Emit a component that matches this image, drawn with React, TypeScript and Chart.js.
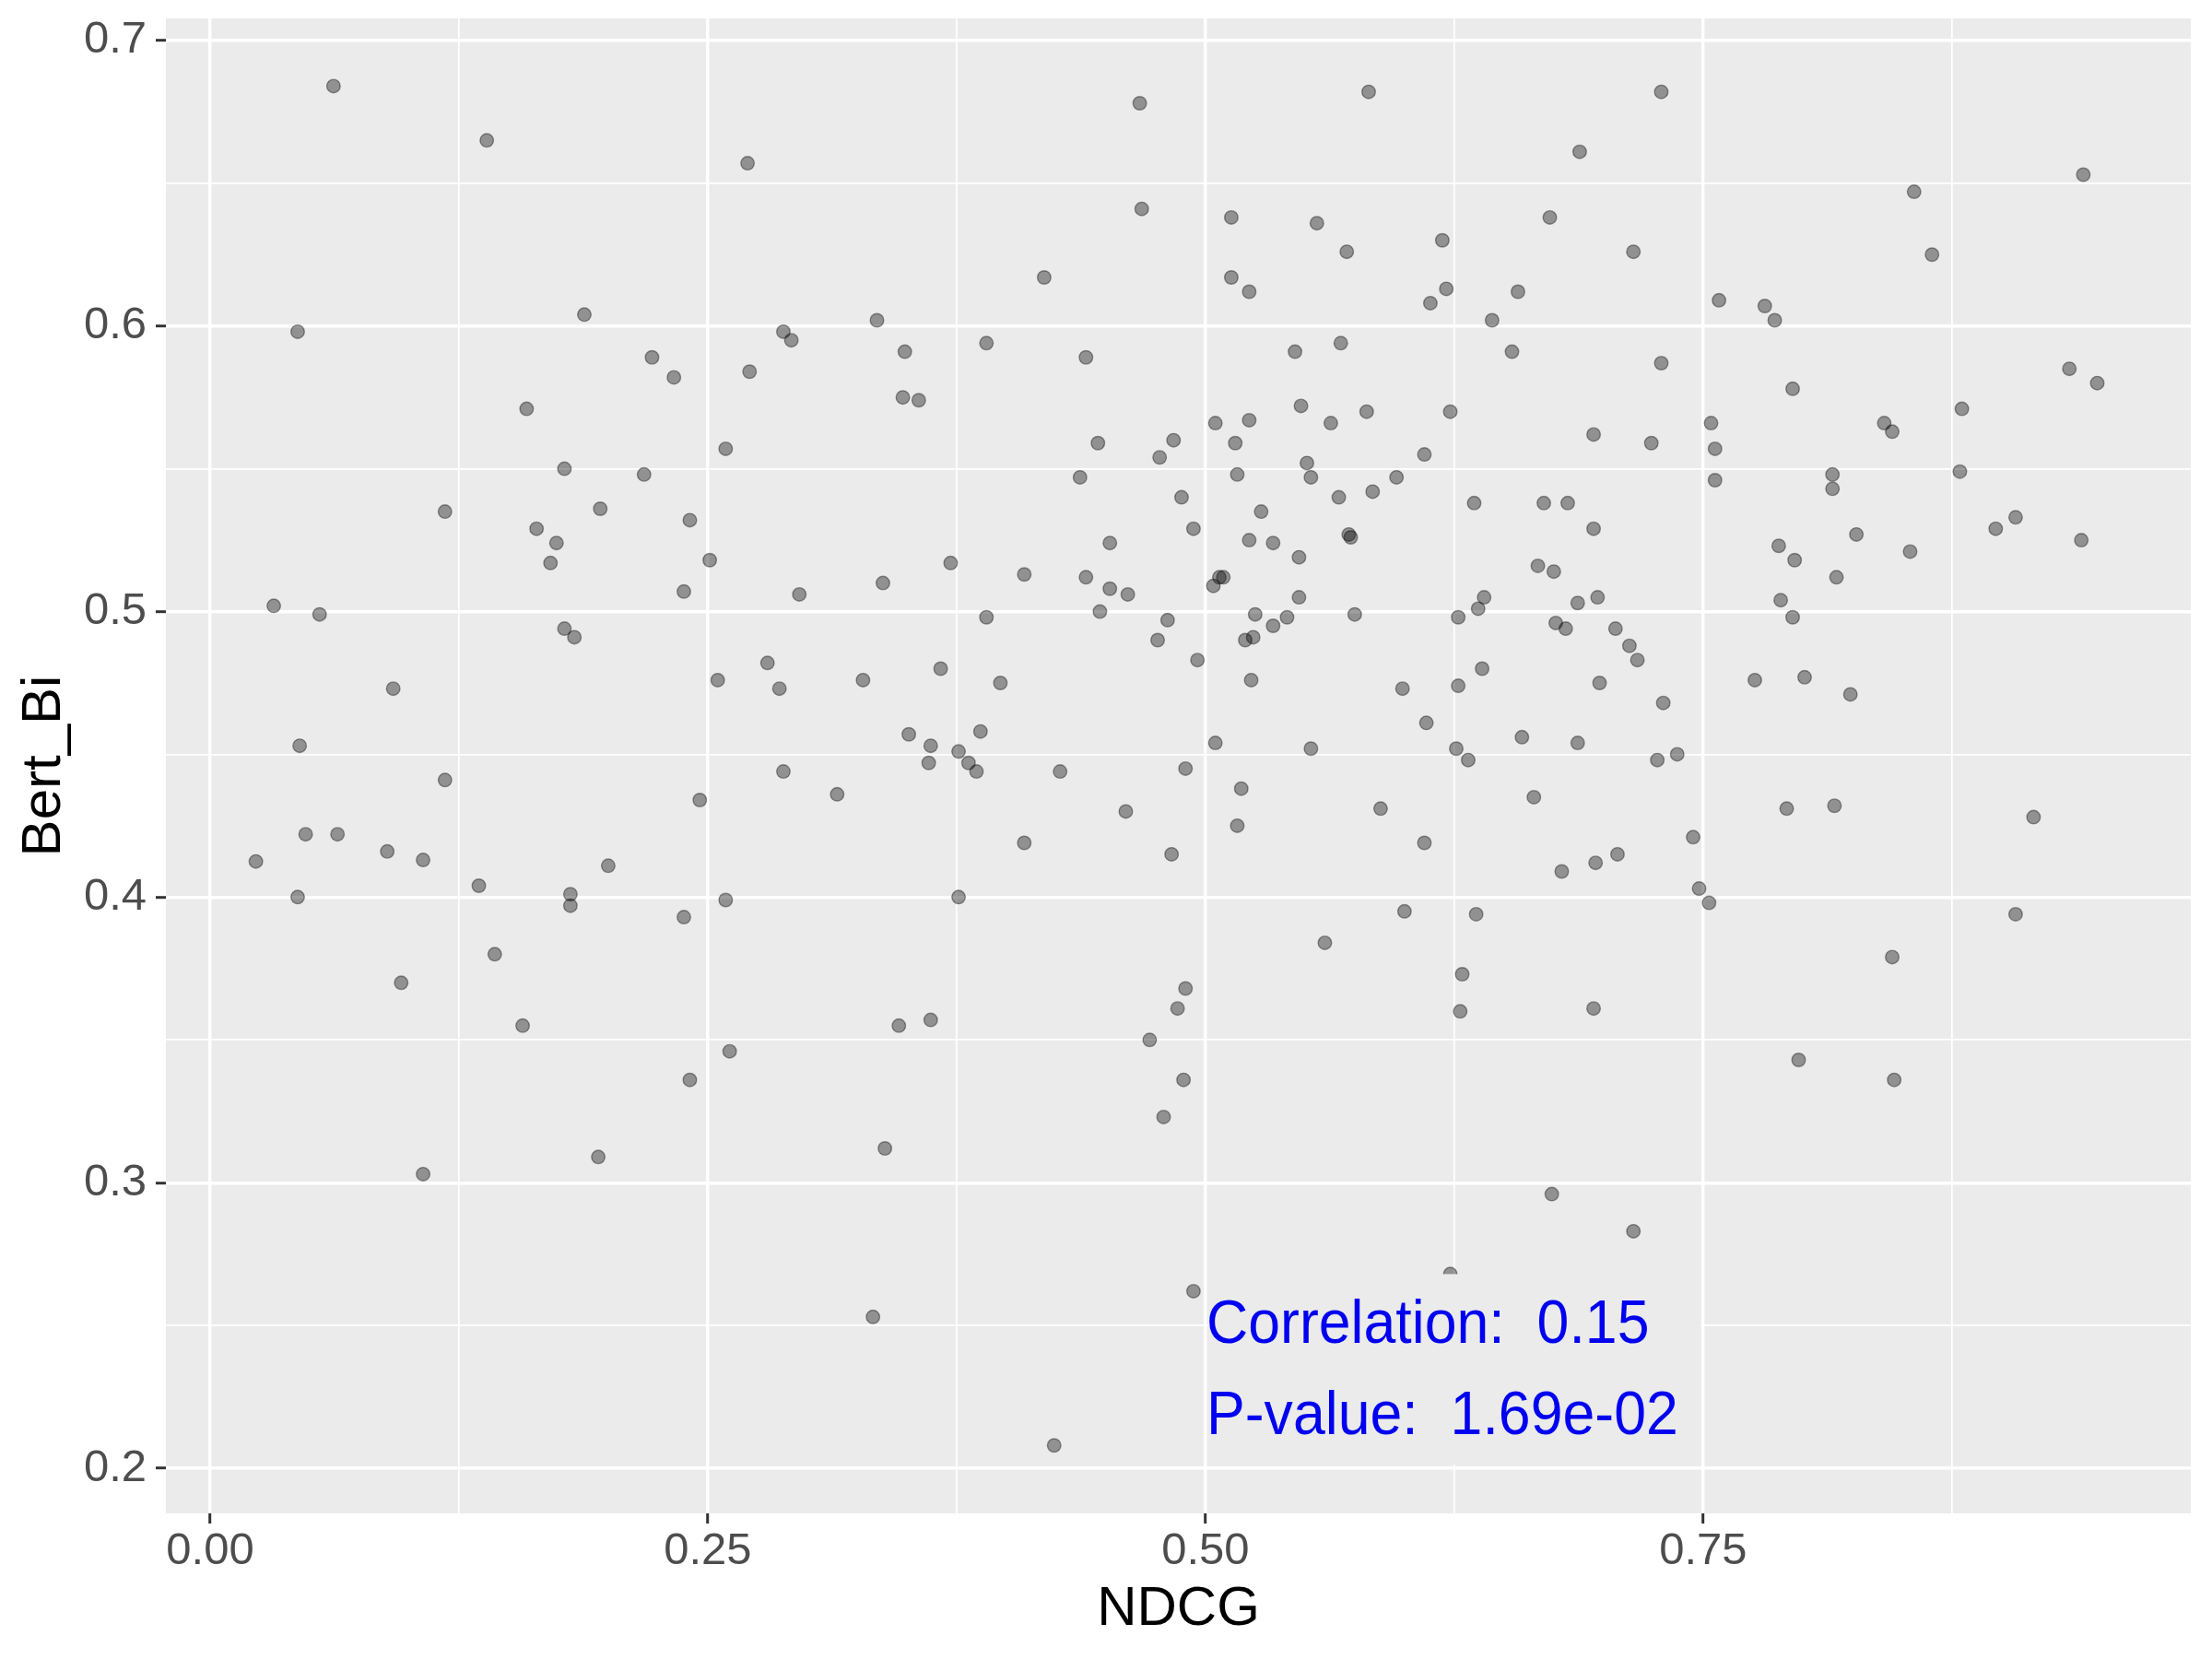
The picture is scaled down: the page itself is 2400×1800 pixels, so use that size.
import React, { useEffect, useRef } from 'react';
import { Chart, registerables } from 'chart.js';

Chart.register(...registerables);

// ---- data ----
const NDCG = [
  0.023, 0.032, 0.044, 0.045, 0.044, 0.048, 0.055, 0.062, 0.064, 0.089, 0.092, 0.096, 0.107, 0.107,
  0.118, 0.118, 0.135, 0.139, 0.143, 0.157, 0.159, 0.164, 0.171, 0.174, 0.178, 0.178, 0.181, 0.181,
  0.183, 0.188, 0.195, 0.196, 0.200, 0.218, 0.222, 0.233, 0.238, 0.238, 0.241, 0.241, 0.246, 0.251,
  0.255, 0.259, 0.259, 0.261, 0.270, 0.271, 0.280, 0.286, 0.288, 0.288, 0.292, 0.296, 0.315, 0.328,
  0.333, 0.335, 0.338, 0.339, 0.346, 0.348, 0.349, 0.351, 0.356, 0.361, 0.362, 0.362, 0.367, 0.372,
  0.376, 0.376, 0.381, 0.385, 0.387, 0.390, 0.390, 0.397, 0.409, 0.409, 0.419, 0.424, 0.427, 0.437,
  0.440, 0.440, 0.446, 0.447, 0.452, 0.452, 0.460, 0.461, 0.467, 0.468, 0.472, 0.476, 0.477, 0.479,
  0.481, 0.483, 0.484, 0.486, 0.488, 0.489, 0.490, 0.490, 0.494, 0.494, 0.496, 0.504, 0.505, 0.505,
  0.507, 0.509, 0.513, 0.513, 0.515, 0.516, 0.516, 0.518, 0.520, 0.522, 0.522, 0.522, 0.523, 0.524,
  0.525, 0.528, 0.534, 0.534, 0.541, 0.545, 0.547, 0.547, 0.548, 0.551, 0.553, 0.553, 0.556, 0.560,
  0.563, 0.567, 0.568, 0.571, 0.572, 0.573, 0.575, 0.581, 0.582, 0.584, 0.588, 0.596, 0.599, 0.600,
  0.610, 0.610, 0.611, 0.613, 0.619, 0.621, 0.623, 0.623, 0.626, 0.627, 0.627, 0.628, 0.629, 0.632,
  0.635, 0.636, 0.637, 0.639, 0.640, 0.644, 0.654, 0.657, 0.659, 0.665, 0.667, 0.670, 0.673, 0.674,
  0.675, 0.676, 0.679, 0.681, 0.682, 0.687, 0.687, 0.688, 0.695, 0.695, 0.695, 0.696, 0.697, 0.698,
  0.706, 0.707, 0.713, 0.715, 0.715, 0.717, 0.724, 0.727, 0.729, 0.729, 0.730, 0.737, 0.745, 0.748,
  0.753, 0.754, 0.756, 0.756, 0.758, 0.776, 0.781, 0.786, 0.788, 0.789, 0.792, 0.795, 0.795, 0.796,
  0.798, 0.801, 0.815, 0.815, 0.816, 0.817, 0.824, 0.827, 0.841, 0.845, 0.845, 0.846, 0.854, 0.856,
  0.865, 0.879, 0.880, 0.897, 0.907, 0.907, 0.916, 0.934, 0.940, 0.941, 0.948,
];

const BERT_BI = [
  0.4125, 0.502, 0.598, 0.453, 0.400, 0.422, 0.499, 0.684, 0.422, 0.416, 0.473, 0.370, 0.413, 0.303,
  0.535, 0.441, 0.404, 0.665, 0.380, 0.355, 0.571, 0.529, 0.517, 0.524, 0.550, 0.494, 0.401, 0.397,
  0.491, 0.604, 0.309, 0.536, 0.411, 0.548, 0.589, 0.582, 0.507, 0.393, 0.336, 0.532, 0.434, 0.518,
  0.476, 0.557, 0.399, 0.346, 0.657, 0.584, 0.482, 0.473, 0.598, 0.444, 0.595, 0.506, 0.436, 0.476,
  0.253, 0.602, 0.510, 0.312, 0.355, 0.575, 0.591, 0.457, 0.574, 0.447, 0.453, 0.357, 0.480, 0.517,
  0.451, 0.400, 0.447, 0.444, 0.458, 0.498, 0.594, 0.475, 0.419, 0.513, 0.617, 0.208, 0.444, 0.547,
  0.512, 0.589, 0.559, 0.500, 0.524, 0.508, 0.430, 0.506, 0.678, 0.641, 0.350, 0.490, 0.554, 0.323,
  0.497, 0.415, 0.560, 0.361, 0.540, 0.336, 0.368, 0.445, 0.529, 0.262, 0.483, 0.509, 0.454, 0.566,
  0.512, 0.512, 0.638, 0.617, 0.559, 0.425, 0.548, 0.438, 0.490, 0.612, 0.525, 0.567, 0.476, 0.491,
  0.499, 0.535, 0.495, 0.524, 0.498, 0.591, 0.519, 0.505, 0.572, 0.552, 0.547, 0.452, 0.636, 0.384,
  0.566, 0.540, 0.594, 0.626, 0.527, 0.526, 0.499, 0.570, 0.682, 0.542, 0.431, 0.547, 0.473, 0.395,
  0.555, 0.419, 0.461, 0.608, 0.630, 0.613, 0.570, 0.268, 0.452, 0.474, 0.498, 0.360, 0.373, 0.448,
  0.538, 0.394, 0.501, 0.480, 0.505, 0.602, 0.591, 0.612, 0.456, 0.435, 0.516, 0.538, 0.638, 0.296,
  0.514, 0.496, 0.409, 0.494, 0.538, 0.503, 0.454, 0.661, 0.562, 0.529, 0.361, 0.412, 0.505, 0.475,
  0.494, 0.415, 0.488, 0.626, 0.283, 0.483, 0.559, 0.448, 0.682, 0.587, 0.468, 0.450, 0.421, 0.403,
  0.398, 0.566, 0.557, 0.546, 0.609, 0.476, 0.607, 0.602, 0.523, 0.504, 0.431, 0.578, 0.498, 0.518,
  0.343, 0.477, 0.548, 0.543, 0.432, 0.512, 0.471, 0.527, 0.566, 0.563, 0.379, 0.336, 0.521, 0.647,
  0.625, 0.549, 0.571, 0.529, 0.533, 0.394, 0.428, 0.585, 0.525, 0.653, 0.580,
];

const X_MAJOR = [0, 0.25, 0.5, 0.75];
const X_MINOR = [0.125, 0.375, 0.625, 0.875];
const Y_MAJOR = [0.2, 0.3, 0.4, 0.5, 0.6, 0.7];
const Y_MINOR = [0.25, 0.35, 0.45, 0.55, 0.65];

const X_TITLE = 'NDCG';
const Y_TITLE = 'Bert_Bi';
const ANNOT_LINES = ['Correlation:  0.15', 'P-value:  1.69e-02'];

// axis ranges (ggplot's 5% expansion)
const X_MIN = -0.0222;
const X_MAX = 0.995;
const Y_MIN = 0.1842;
const Y_MAX = 0.7077;

// annotation placement (data units)
const ANNOT_X = 0.5005;
const ANNOT_Y = [0.2439, 0.2119];
const BOX = { x0: 0.5012, x1: 0.7488, y0: 0.2012, y1: 0.268 };

const FONT = '"Liberation Sans", Arial, Helvetica, sans-serif';
const PANEL_BG = '#EBEBEB';

const isIn = (v: number, arr: number[]) => arr.some((m) => Math.abs(m - v) < 1e-9);

const panelBg = {
  id: 'panelBg',
  beforeDraw(chart: any) {
    const { ctx, chartArea } = chart;
    ctx.save();
    ctx.fillStyle = PANEL_BG;
    ctx.fillRect(chartArea.left, chartArea.top, chartArea.right - chartArea.left, chartArea.bottom - chartArea.top);
    ctx.restore();
  },
};

const annotation = {
  id: 'corrAnnotation',
  afterDatasetsDraw(chart: any) {
    const { ctx } = chart;
    const xs = chart.scales.x;
    const ys = chart.scales.y;
    const bx0 = xs.getPixelForValue(BOX.x0);
    const bx1 = xs.getPixelForValue(BOX.x1);
    const by0 = ys.getPixelForValue(BOX.y1);
    const by1 = ys.getPixelForValue(BOX.y0);
    ctx.save();
    ctx.fillStyle = PANEL_BG;
    ctx.fillRect(bx0, by0, bx1 - bx0, by1 - by0);
    ctx.fillStyle = '#0000F0';
    ctx.font = `67px ${FONT}`;
    ctx.textAlign = 'left';
    ctx.textBaseline = 'alphabetic';
    ANNOT_LINES.forEach((line, i) => {
      ctx.save();
      ctx.translate(xs.getPixelForValue(ANNOT_X), ys.getPixelForValue(ANNOT_Y[i]));
      ctx.scale(0.935, 1);
      ctx.fillText(line, 0, 0);
      ctx.restore();
    });
    ctx.restore();
  },
};

export default function App() {
  const ref = useRef<HTMLCanvasElement | null>(null);

  useEffect(() => {
    if (!ref.current) return;
    const points = NDCG.map((x, i) => ({ x, y: BERT_BI[i] }));
    const chart = new Chart(ref.current, {
      type: 'scatter',
      data: {
        datasets: [
          {
            data: points,
            backgroundColor: 'rgba(0,0,0,0.38)',
            borderColor: 'rgba(0,0,0,0.38)',
            borderWidth: 1.4,
            pointRadius: 7.3,
            pointHoverRadius: 7.3,
          },
        ],
      },
      options: {
        responsive: false,
        animation: false,
        devicePixelRatio: 1,
        layout: { padding: { left: 0, top: 20, right: 23, bottom: 0 } },
        plugins: { legend: { display: false }, tooltip: { enabled: false }, title: { display: false } },
        scales: {
          x: {
            type: 'linear',
            min: X_MIN,
            max: X_MAX,
            afterBuildTicks: (s: any) => {
              s.ticks = [...X_MAJOR, ...X_MINOR].sort((a, b) => a - b).map((v) => ({ value: v }));
            },
            afterFit: (s: any) => {
              s.height = 158;
              s.paddingLeft = 0;
              s.paddingRight = 0;
            },
            border: { display: false },
            grid: {
              color: '#FFFFFF',
              lineWidth: (c: any) => (isIn(c.tick?.value, X_MAJOR) ? 3.4 : 1.7),
              drawTicks: true,
              tickLength: 11,
              tickWidth: 3,
              tickColor: (c: any) => (isIn(c.tick?.value, X_MAJOR) ? '#333333' : 'rgba(0,0,0,0)'),
            },
            ticks: {
              autoSkip: false,
              maxRotation: 0,
              padding: 1,
              color: '#4D4D4D',
              font: { family: FONT, size: 49 },
              callback: (v: any) => (isIn(Number(v), X_MAJOR) ? Number(v).toFixed(2) : ''),
            },
            title: {
              display: true,
              text: X_TITLE,
              color: '#000000',
              font: { family: FONT, size: 60 },
              padding: { top: 0, bottom: 18 },
            },
          },
          y: {
            type: 'linear',
            min: Y_MIN,
            max: Y_MAX,
            afterBuildTicks: (s: any) => {
              s.ticks = [...Y_MAJOR, ...Y_MINOR].sort((a, b) => a - b).map((v) => ({ value: v }));
            },
            afterFit: (s: any) => {
              s.width = 180;
              s.paddingTop = 0;
              s.paddingBottom = 0;
            },
            border: { display: false },
            grid: {
              color: '#FFFFFF',
              lineWidth: (c: any) => (isIn(c.tick?.value, Y_MAJOR) ? 3.4 : 1.7),
              drawTicks: true,
              tickLength: 11,
              tickWidth: 3,
              tickColor: (c: any) => (isIn(c.tick?.value, Y_MAJOR) ? '#333333' : 'rgba(0,0,0,0)'),
            },
            ticks: {
              autoSkip: false,
              padding: 10,
              color: '#4D4D4D',
              font: { family: FONT, size: 49 },
              callback: (v: any) => (isIn(Number(v), Y_MAJOR) ? Number(v).toFixed(1) : ''),
            },
            title: {
              display: true,
              text: Y_TITLE,
              color: '#000000',
              font: { family: FONT, size: 60 },
              padding: { top: 12, bottom: 0 },
            },
          },
        },
      },
      plugins: [panelBg, annotation],
    });
    return () => chart.destroy();
  }, []);

  return (
    <canvas
      ref={ref}
      width={2400}
      height={1800}
      style={{ position: 'fixed', left: 0, top: 0, width: 2400, height: 1800, background: '#FFFFFF' }}
    />
  );
}
